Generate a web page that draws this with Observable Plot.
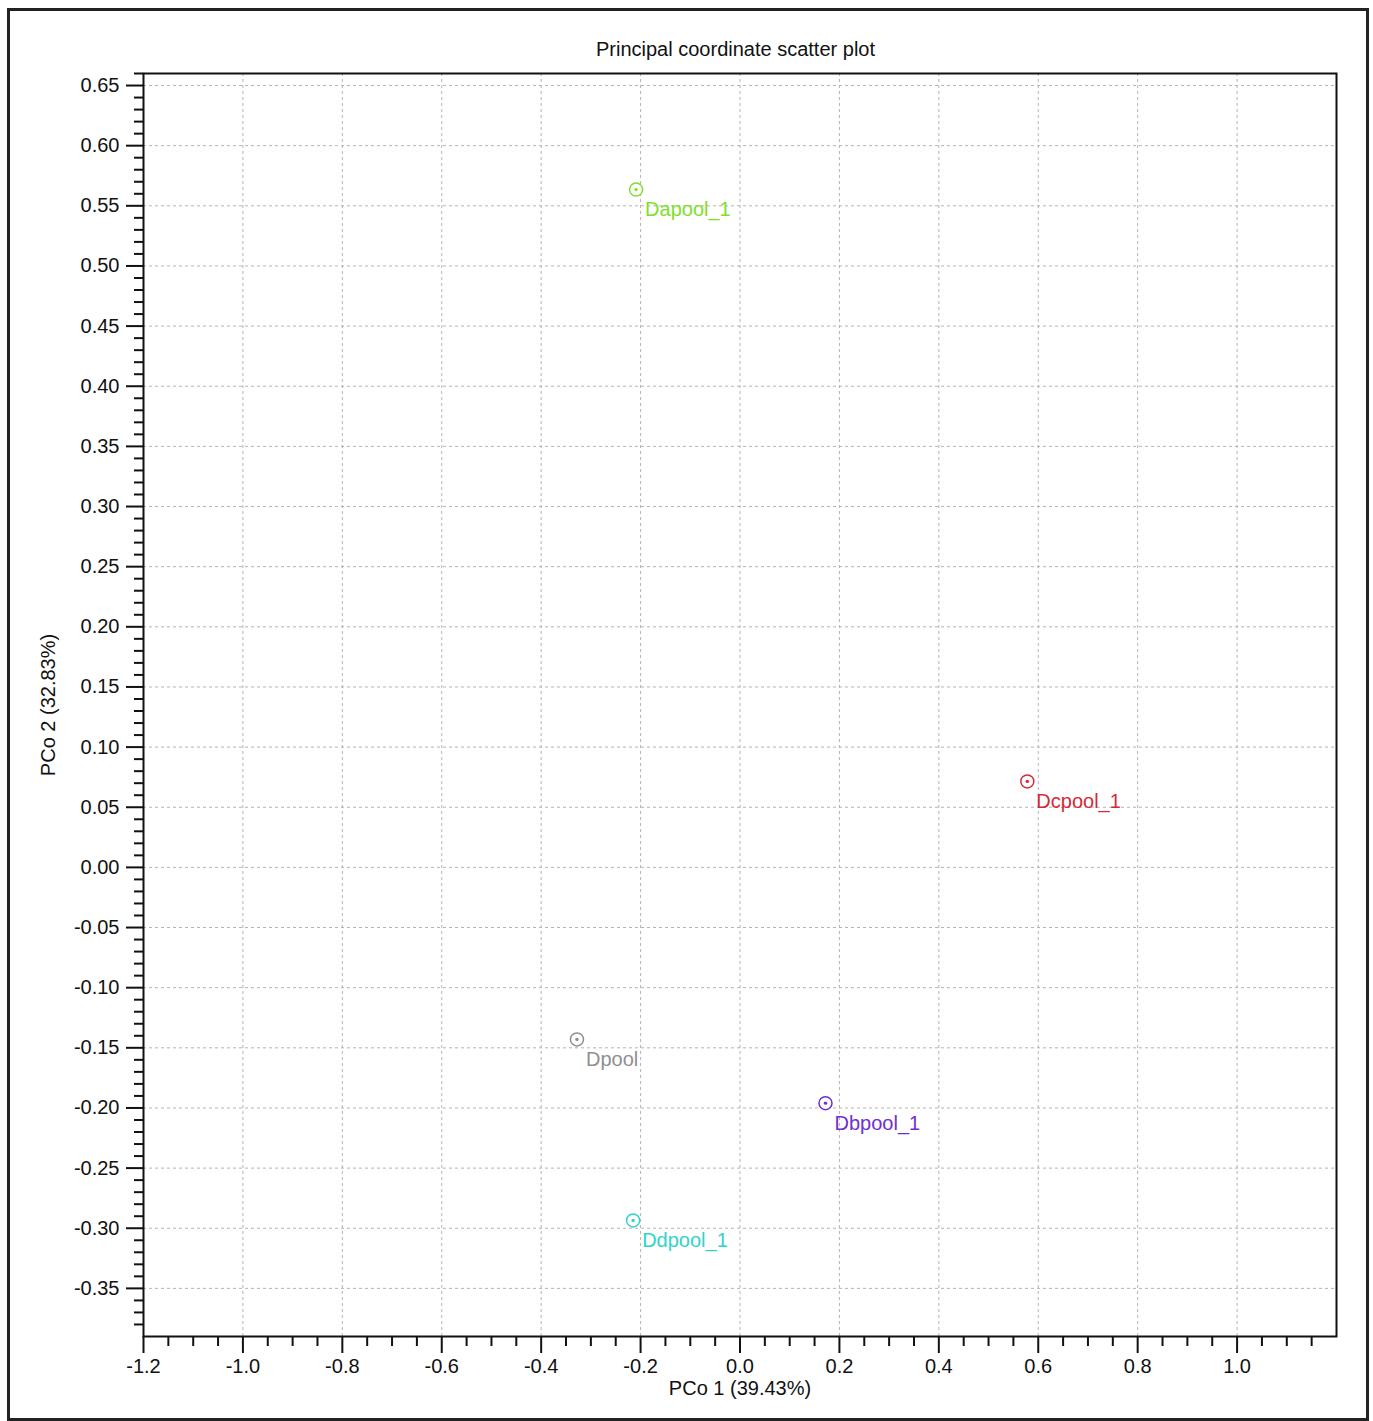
<!DOCTYPE html>
<html>
<head>
<meta charset="utf-8">
<script src="https://cdn.jsdelivr.net/npm/d3@7"></script>
<script src="https://cdn.jsdelivr.net/npm/@observablehq/plot@0.6"></script>
<style>
  body { margin: 0; background: #fff; font-family: "Liberation Sans", Arial, sans-serif; }
  #wrap { position: relative; width: 1373px; height: 1421px; }
  #frame { position: absolute; left: 7px; top: 8px; width: 1356px; height: 1407px; border: 3px solid #222; pointer-events: none; }
  #title { position: absolute; left: 0; width: 1471px; top: 38px; text-align: center; font-size: 20px; color: #111; }
  #chart { position: absolute; left: 0; top: 0; }
</style>
</head>
<body>
<div id="wrap">
  <div id="chart"></div>
  <div id="frame"></div>
  <div id="title">Principal coordinate scatter plot</div>
</div>
<script>
// Data
const samples = ["Dapool_1", "Dcpool_1", "Dpool", "Dbpool_1", "Ddpool_1"];
const pco1 = [-0.209, 0.578, -0.328, 0.172, -0.215];
const pco2 = [0.5635, 0.0715, -0.143, -0.196, -0.2935];
const colors = ["#7ee02a", "#d42a38", "#8f8f8f", "#6f2fd0", "#2fd4c8"];

const xTicks = [-1.2, -1.0, -0.8, -0.6, -0.4, -0.2, 0.0, 0.2, 0.4, 0.6, 0.8, 1.0];
const xMinor = [-1.15, -1.1, -1.05, -0.95, -0.9, -0.85, -0.75, -0.7, -0.65, -0.55, -0.5, -0.45,
  -0.35, -0.3, -0.25, -0.15, -0.1, -0.05, 0.05, 0.1, 0.15, 0.25, 0.3, 0.35, 0.45, 0.5, 0.55,
  0.65, 0.7, 0.75, 0.85, 0.9, 0.95, 1.05, 1.1, 1.15];
const yTicks = [0.65, 0.60, 0.55, 0.50, 0.45, 0.40, 0.35, 0.30, 0.25, 0.20, 0.15, 0.10, 0.05, 0.00,
  -0.05, -0.10, -0.15, -0.20, -0.25, -0.30, -0.35];
const yMinor = d3.range(-38, 67).map(i => i / 100).filter(v => !yTicks.some(t => Math.abs(t - v) < 1e-9));

const data = samples.map((s, i) => ({name: s, x: pco1[i], y: pco2[i], color: colors[i]}));

const font = "Liberation Sans, Arial, sans-serif";
const chart = Plot.plot({
  width: 1373,
  height: 1421,
  marginLeft: 143,
  marginRight: 37,
  marginTop: 73,
  marginBottom: 85,
  style: {fontFamily: font, fontSize: "20px", color: "#111", background: "transparent"},
  x: {domain: [-1.2, 1.2]},
  y: {domain: [-0.39, 0.66]},
  marks: [
    Plot.gridX(xTicks, {stroke: "#b4b4b4", strokeOpacity: 1, strokeDasharray: "3,3", strokeWidth: 1}),
    Plot.gridY(yTicks, {stroke: "#b4b4b4", strokeOpacity: 1, strokeDasharray: "3,3", strokeWidth: 1}),
    Plot.axisX(xMinor, {tickSize: 10, text: null, stroke: "#111", strokeWidth: 2, label: null}),
    Plot.axisX(xTicks, {tickSize: 17, tickPadding: 5, strokeWidth: 2, stroke: "#111", fill: "#111",
      fontSize: 20, tickFormat: d => d.toFixed(1), label: null}),
    Plot.axisY(yMinor, {tickSize: 9, text: null, stroke: "#111", strokeWidth: 2, label: null}),
    Plot.axisY(yTicks, {tickSize: 17, tickPadding: 7, strokeWidth: 2, stroke: "#111", fill: "#111",
      fontSize: 20, tickFormat: d => d.toFixed(2), label: null}),
    Plot.frame({stroke: "#111", strokeWidth: 2}),
    Plot.dot(data, {x: "x", y: "y", r: 6.5, stroke: "color", fill: "white", strokeWidth: 1.5}),
    Plot.dot(data, {x: "x", y: "y", r: 1.7, fill: "color", stroke: null}),
    Plot.text(data, {x: "x", y: "y", text: "name", fill: "color", dx: 9, dy: 20, textAnchor: "start", lineAnchor: "middle", fontSize: 20}),
    Plot.text(["PCo 1 (39.43%)"], {frameAnchor: "bottom", lineAnchor: "middle", textAnchor: "middle", dy: 52, fontSize: 20, fill: "#111"}),
    Plot.text(["PCo 2 (32.83%)"], {frameAnchor: "left", lineAnchor: "middle", textAnchor: "middle", dx: -95, rotate: -90, fontSize: 20, fill: "#111"})
  ]
});
document.getElementById("chart").appendChild(chart);
</script>
</body>
</html>
